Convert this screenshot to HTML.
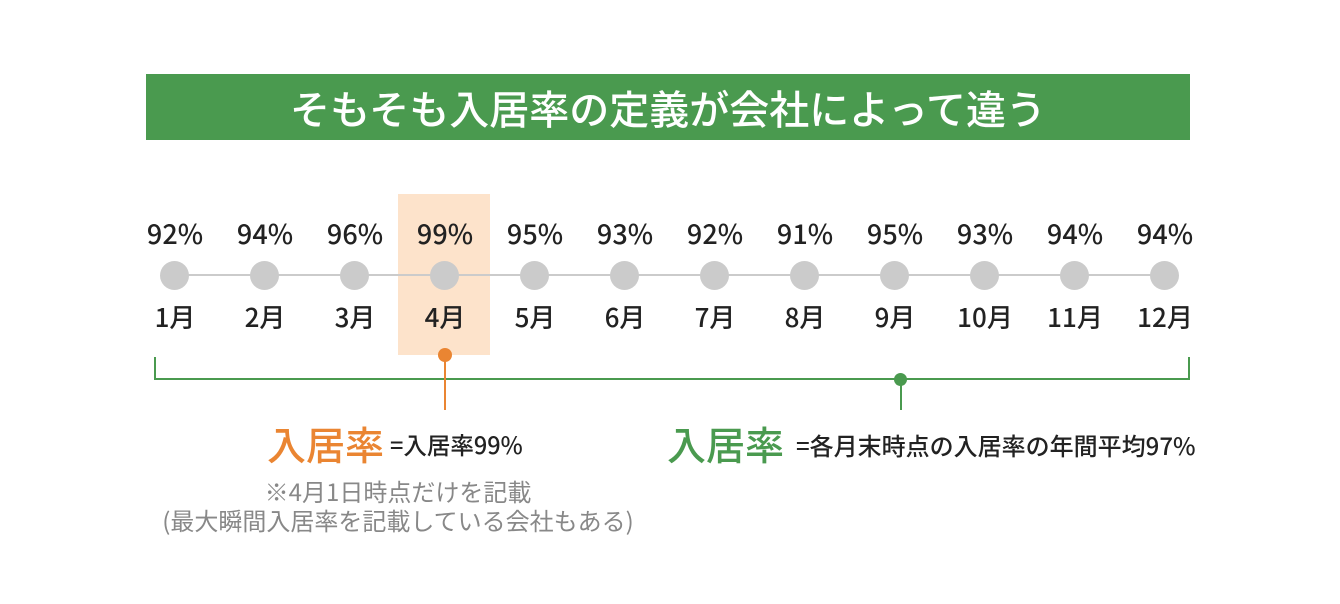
<!DOCTYPE html>
<html><head><meta charset="utf-8"><style>
*{margin:0;padding:0;box-sizing:border-box}
body{width:1340px;height:604px;background:#fff;position:relative;overflow:hidden;font-family:"Noto Sans CJK JP","Liberation Sans",sans-serif;color:#222}
.a{position:absolute;white-space:nowrap}
.c{transform:translateX(-50%);text-align:center}
.banner{left:146px;top:74px;width:1044px;height:66px;background:#4a9a4f;color:#fff;font-size:40px;font-weight:500;text-align:center;line-height:66px}
.p{top:215px;font-size:27px;line-height:36px;font-weight:500}
.m{top:299px;font-size:26px;line-height:36px;font-weight:500}
.dot{width:29px;height:29px;border-radius:50%;background:#cbcbcb;top:261px}
</style></head><body>
<div class="a banner">そもそも入居率の定義が会社によって違う</div>
<div class="a" style="left:398px;top:194px;width:92px;height:161px;background:#fde3cb"></div>
<div class="a" style="left:175px;top:274px;width:990px;height:2px;background:#cbcbcb"></div>
<div class="a p c" style="left:175px">92%</div><div class="a p c" style="left:265px">94%</div><div class="a p c" style="left:355px">96%</div><div class="a p c" style="left:445px">99%</div><div class="a p c" style="left:535px">95%</div><div class="a p c" style="left:625px">93%</div><div class="a p c" style="left:715px">92%</div><div class="a p c" style="left:805px">91%</div><div class="a p c" style="left:895px">95%</div><div class="a p c" style="left:985px">93%</div><div class="a p c" style="left:1075px">94%</div><div class="a p c" style="left:1165px">94%</div>
<div class="a dot" style="left:160px"></div><div class="a dot" style="left:250px"></div><div class="a dot" style="left:340px"></div><div class="a dot" style="left:430px"></div><div class="a dot" style="left:520px"></div><div class="a dot" style="left:610px"></div><div class="a dot" style="left:700px"></div><div class="a dot" style="left:790px"></div><div class="a dot" style="left:880px"></div><div class="a dot" style="left:970px"></div><div class="a dot" style="left:1060px"></div><div class="a dot" style="left:1150px"></div>
<div class="a m c" style="left:175px">1月</div><div class="a m c" style="left:265px">2月</div><div class="a m c" style="left:355px">3月</div><div class="a m c" style="left:445px">4月</div><div class="a m c" style="left:535px">5月</div><div class="a m c" style="left:625px">6月</div><div class="a m c" style="left:715px">7月</div><div class="a m c" style="left:805px">8月</div><div class="a m c" style="left:895px">9月</div><div class="a m c" style="left:985px">10月</div><div class="a m c" style="left:1075px">11月</div><div class="a m c" style="left:1165px">12月</div>
<div class="a" style="left:154px;top:357px;width:1036px;height:23px;border:2px solid #4a9a4f;border-top:none"></div>
<div class="a" style="left:894px;top:373px;width:13px;height:13px;border-radius:50%;background:#4a9a4f"></div>
<div class="a" style="left:900px;top:380px;width:2px;height:30px;background:#4a9a4f"></div>
<div class="a" style="left:438px;top:348px;width:14px;height:14px;border-radius:50%;background:#ea8532"></div>
<div class="a" style="left:444px;top:355px;width:2px;height:55px;background:#ea8532"></div>
<div class="a" style="left:267px;top:416px;font-size:39px;font-weight:500;color:#ea8532;line-height:56px">入居率</div>
<div class="a" style="left:390px;top:427px;font-size:23.5px;font-weight:500;line-height:34px">=入居率99%</div>
<div class="a c" style="left:398px;top:476px;font-size:24px;color:#888;line-height:30px">※4月1日時点だけを記載</div>
<div class="a c" style="left:398px;top:505px;font-size:24px;color:#888;line-height:30px">(最大瞬間入居率を記載している会社もある)</div>
<div class="a" style="left:667px;top:416px;font-size:39px;font-weight:500;color:#4a9a4f;line-height:56px">入居率</div>
<div class="a" style="left:796px;top:428px;font-size:24px;font-weight:500;line-height:34px">=各月末時点の入居率の年間平均97%</div>
</body></html>
